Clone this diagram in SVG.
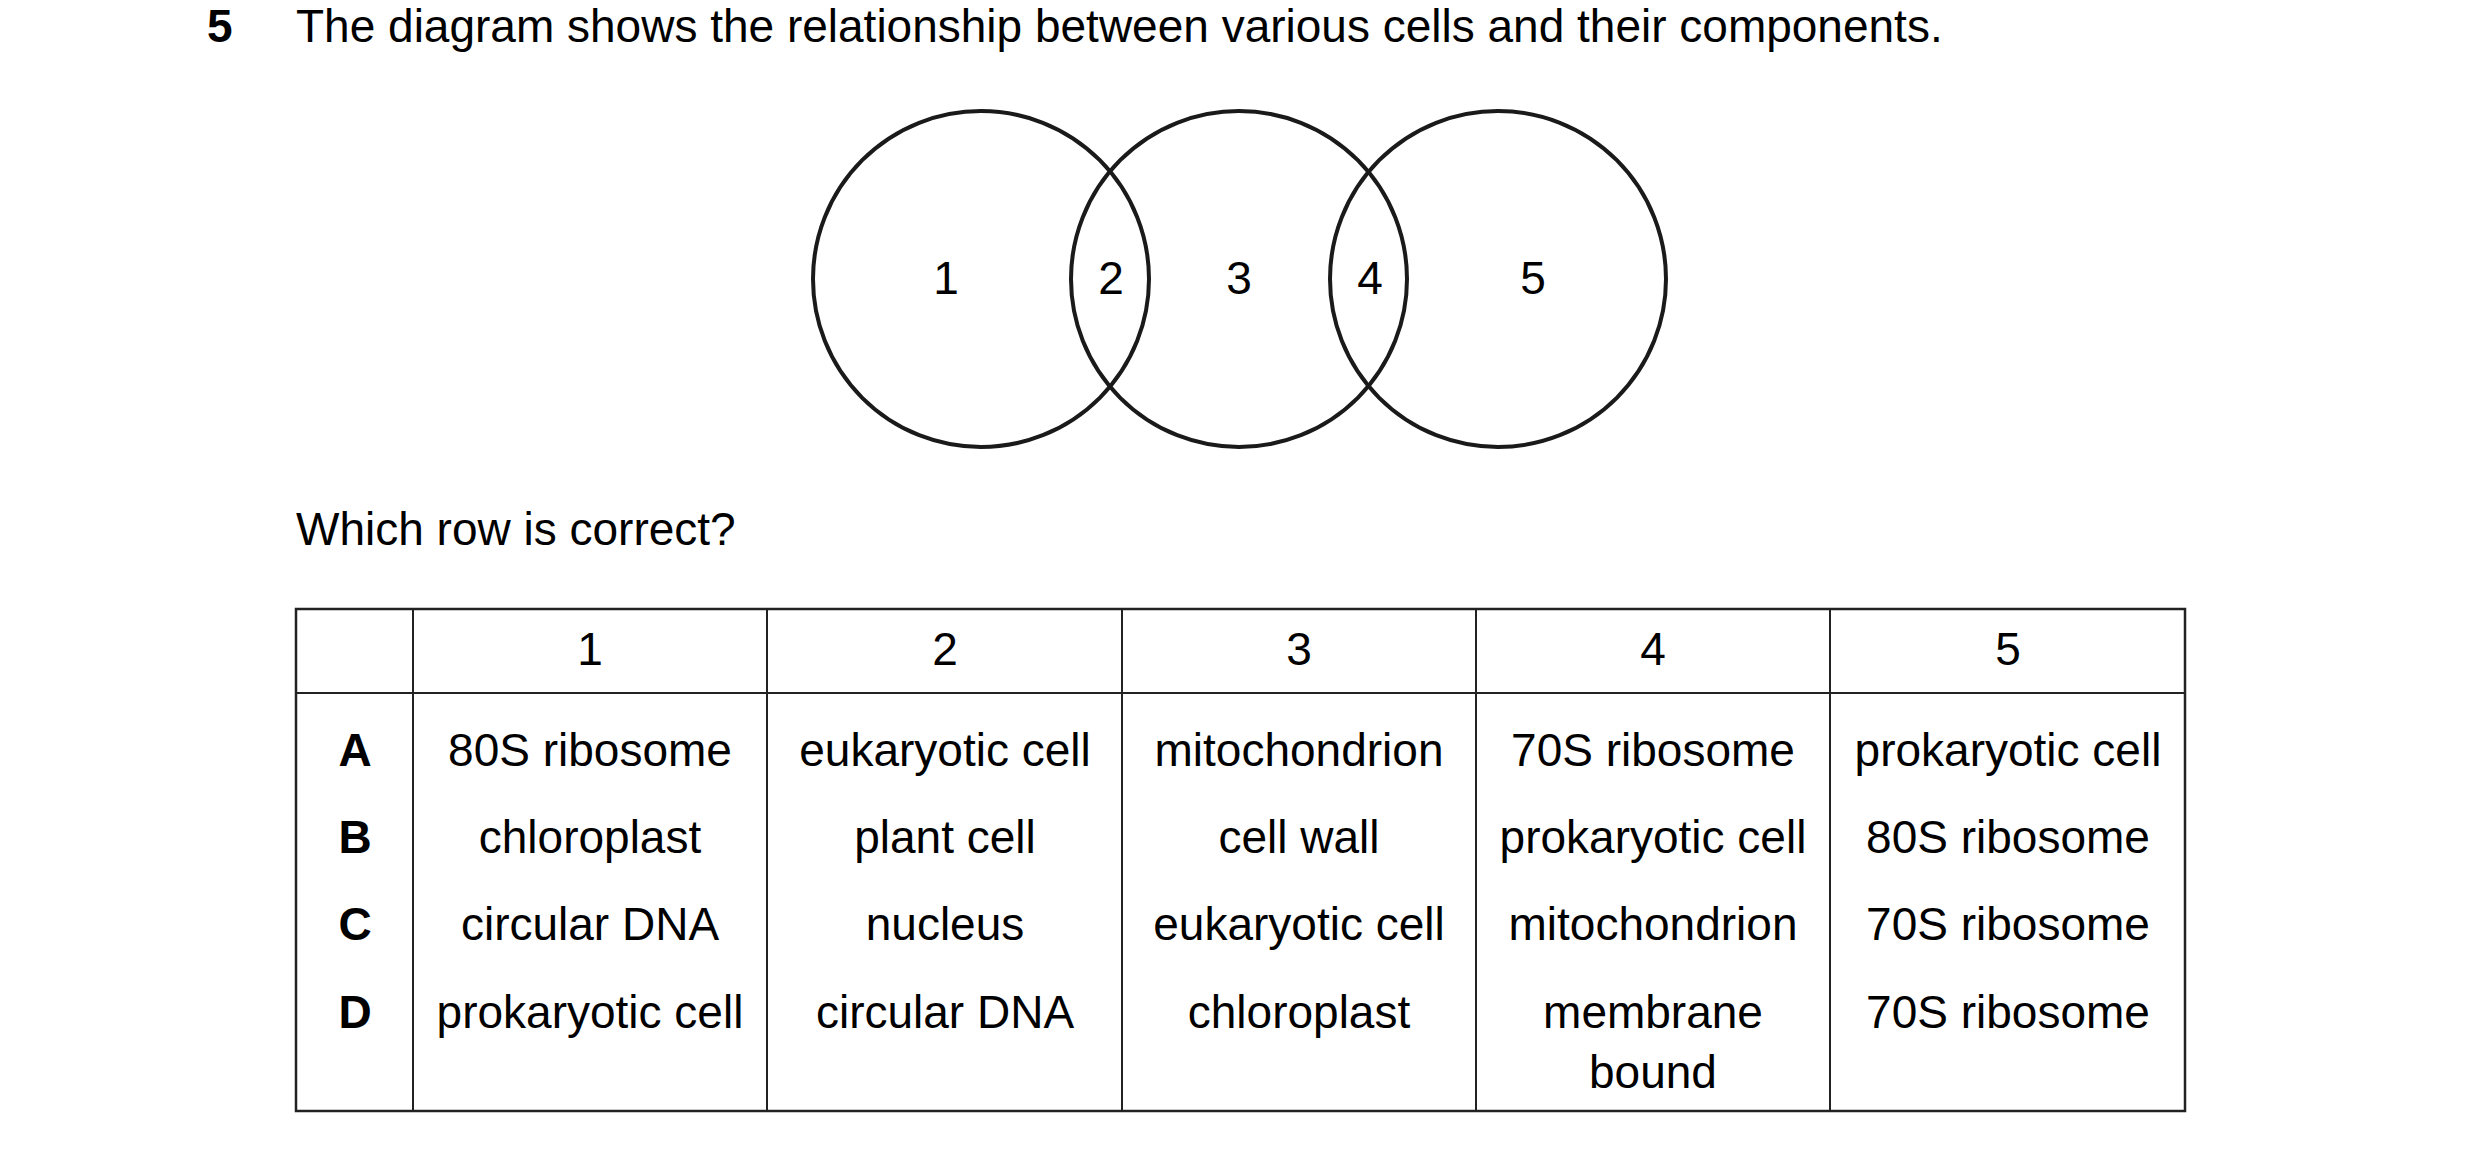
<svg xmlns="http://www.w3.org/2000/svg" width="2480" height="1152" viewBox="0 0 2480 1152">
<style>
text{font-family:"Liberation Sans",Arial,sans-serif;fill:#000;font-size:46px}
.c{text-anchor:middle}
.b{font-weight:bold}
.v{fill:none;stroke:#1a1a1a;stroke-width:4}
.g{stroke:#222;stroke-width:2}
</style>
<rect width="2480" height="1152" fill="#fff"/>
<text class="b" x="207" y="42">5</text>
<text x="296" y="42">The diagram shows the relationship between various cells and their components.</text>
<g id="venn">
<circle class="v" cx="981" cy="279" r="168"/>
<circle class="v" cx="1239" cy="279" r="168"/>
<circle class="v" cx="1498" cy="279" r="168"/>
<text class="c" x="946" y="294">1</text>
<text class="c" x="1111" y="294">2</text>
<text class="c" x="1239" y="294">3</text>
<text class="c" x="1370" y="294">4</text>
<text class="c" x="1533" y="294">5</text>
</g>
<text x="296" y="545">Which row is correct?</text>
<g id="table">
<rect x="296" y="609" width="1889" height="502" fill="none" stroke="#222" stroke-width="2.5"/>
<line class="g" x1="296" y1="693" x2="2185" y2="693" stroke-width="3"/>
<line class="g" x1="413" y1="609" x2="413" y2="1111"/>
<line class="g" x1="767" y1="609" x2="767" y2="1111"/>
<line class="g" x1="1122" y1="609" x2="1122" y2="1111"/>
<line class="g" x1="1476" y1="609" x2="1476" y2="1111"/>
<line class="g" x1="1830" y1="609" x2="1830" y2="1111"/>
<text class="c" x="590" y="665">1</text>
<text class="c" x="945" y="665">2</text>
<text class="c" x="1299" y="665">3</text>
<text class="c" x="1653" y="665">4</text>
<text class="c" x="2008" y="665">5</text>
<text class="c b" x="355" y="766">A</text>
<text class="c b" x="355" y="853">B</text>
<text class="c b" x="355" y="940">C</text>
<text class="c b" x="355" y="1028">D</text>
<text class="c" x="590" y="766">80S ribosome</text>
<text class="c" x="945" y="766">eukaryotic cell</text>
<text class="c" x="1299" y="766">mitochondrion</text>
<text class="c" x="1653" y="766">70S ribosome</text>
<text class="c" x="2008" y="766">prokaryotic cell</text>
<text class="c" x="590" y="853">chloroplast</text>
<text class="c" x="945" y="853">plant cell</text>
<text class="c" x="1299" y="853">cell wall</text>
<text class="c" x="1653" y="853">prokaryotic cell</text>
<text class="c" x="2008" y="853">80S ribosome</text>
<text class="c" x="590" y="940">circular DNA</text>
<text class="c" x="945" y="940">nucleus</text>
<text class="c" x="1299" y="940">eukaryotic cell</text>
<text class="c" x="1653" y="940">mitochondrion</text>
<text class="c" x="2008" y="940">70S ribosome</text>
<text class="c" x="590" y="1028">prokaryotic cell</text>
<text class="c" x="945" y="1028">circular DNA</text>
<text class="c" x="1299" y="1028">chloroplast</text>
<text class="c" x="1653" y="1028">membrane</text>
<text class="c" x="1653" y="1088">bound</text>
<text class="c" x="2008" y="1028">70S ribosome</text>
</g>
</svg>
